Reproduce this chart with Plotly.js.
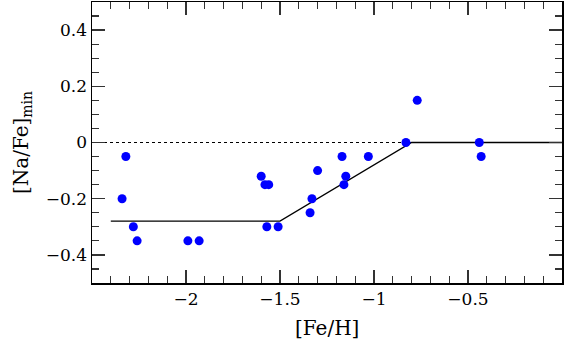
<!DOCTYPE html>
<html>
<head>
<meta charset="utf-8">
<script src="https://cdn.plot.ly/plotly-3.0.1.min.js"></script>
<style>body{margin:0;background:#fff}</style>
</head>
<body>
<div id="plotArea" style="width:564px;height:340px"></div>
<script>
// cluster points, [Fe/H] vs minimum [Na/Fe]
var feh = [-2.32, -2.34, -2.28, -2.26, -1.99, -1.93, -1.60, -1.58, -1.56, -1.57, -1.51,
           -1.30, -1.17, -1.03, -1.15, -1.16, -1.33, -1.34, -0.83, -0.77, -0.44, -0.43];
var nafeMin = [-0.05, -0.20, -0.30, -0.35, -0.35, -0.35, -0.12, -0.15, -0.15, -0.30, -0.30,
               -0.10, -0.05, -0.05, -0.12, -0.15, -0.20, -0.25, 0.00, 0.15, 0.00, -0.05];

// broken-line lower envelope
var envX = [-2.4, -1.5, -0.8, 0];
var envY = [-0.28, -0.28, 0, 0];

// zero reference
var zeroX = [-2.5, 0];
var zeroY = [0, 0];

var xTicks = [-2, -1.5, -1, -0.5];
var yTicks = [-0.4, -0.2, 0, 0.2, 0.4];

var zero = {x: zeroX, y: zeroY, mode: "lines", type: "scatter",
  line: {color: "black", width: 1.2, dash: "dot"}, hoverinfo: "skip"};
var env = {x: envX, y: envY, mode: "lines", type: "scatter",
  line: {color: "black", width: 1.3}};
var pts = {x: feh, y: nafeMin, mode: "markers", type: "scatter",
  marker: {color: "#0000ff", size: 9}};

var font = {family: "DejaVu Serif, Liberation Serif, serif", size: 17, color: "black"};
var titleFont = {family: "DejaVu Serif, Liberation Serif, serif", size: 20, color: "black"};

var layout = {
  width: 564, height: 340,
  margin: {l: 92, r: 2, t: 2, b: 57},
  showlegend: false,
  plot_bgcolor: "white", paper_bgcolor: "white",
  font: font,
  xaxis: {
    range: [-2.5, 0], tickvals: xTicks, ticktext: ["−2", "−1.5", "−1", "−0.5"],
    ticks: "inside", ticklen: 13, tickwidth: 1.3, tickcolor: "#333",
    minor: {dtick: 0.1, ticks: "inside", ticklen: 7, tickwidth: 1.2, tickcolor: "#333"},
    showline: true, linecolor: "black", linewidth: 1.5, mirror: "allticks",
    showgrid: false, zeroline: false
  },
  yaxis: {
    range: [-0.5, 0.5], tickvals: yTicks, ticktext: ["−0.4", "−0.2", "0", "0.2", "0.4"],
    ticks: "inside", ticklen: 13, tickwidth: 1.3, tickcolor: "#333",
    minor: {dtick: 0.05, ticks: "inside", ticklen: 7, tickwidth: 1.2, tickcolor: "#333"},
    showline: true, linecolor: "black", linewidth: 1.5, mirror: "allticks",
    showgrid: false, zeroline: false,
    title: {text: "[Na/Fe]<sub>min</sub>", font: titleFont, standoff: 12}
  },
  annotations: [{
    text: "[Fe/H]", font: titleFont, showarrow: false,
    xref: "paper", yref: "paper", x: 0.5, y: -0.16,
    xanchor: "center", yanchor: "middle"
  }]
};

Plotly.newPlot("plotArea", [zero, env, pts], layout, {staticPlot: true});
</script>
</body>
</html>
